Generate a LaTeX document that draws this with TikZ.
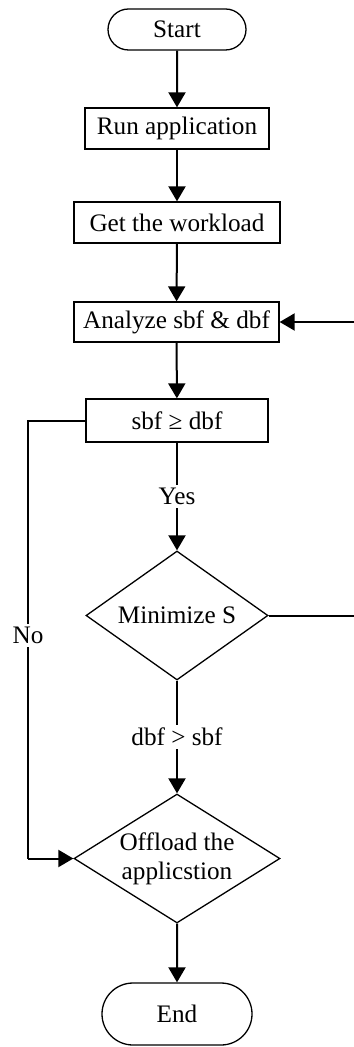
\documentclass[tikz,border=0pt]{standalone}
\usepackage{fontspec}
\setmainfont{Liberation Serif}
\usetikzlibrary{shapes.geometric,shapes.misc,arrows.meta}

\begin{document}
\begin{tikzpicture}[x=0.5pt, y=-0.5pt,
    every node/.style={font=\fontsize{12.6}{14.5}\selectfont},
    box/.style={draw, line width=0.65pt, inner sep=0pt, minimum height=20.5pt},
    term/.style={draw, line width=0.65pt, rounded rectangle, inner sep=0pt},
    decision/.style={draw, line width=0.65pt, diamond, aspect=1.6, inner sep=0pt,
      align=center, minimum width=#1, minimum height=64.5pt},
    flow/.style={line width=1pt, -{Triangle[width=8.5pt,length=7.5pt]}},
    lbl/.style={fill=white, inner sep=1.5pt}]
  \useasboundingbox (0,0) rectangle (353,1047);

  % main column
  \node[term, minimum width=69pt, minimum height=20.5pt] (start) at (177,29.5) {Start};
  \node[box, minimum width=92pt] (run) at (177,128.5) {Run application};
  \node[box, minimum width=103pt] (load) at (177,222.5) {Get the workload};
  \node[box, minimum width=102.5pt, minimum height=20pt] (analyze) at (176.5,322) {Analyze sbf \& dbf};
  \node[box, minimum width=91pt, minimum height=21.5pt] (check) at (177,420.5) {sbf ≥ dbf};
  \node[decision=91pt] (minimize) at (177,615.5) {Minimize S};
  \node[decision=103pt] (offload) at (177,858.5) {Offload the\\applicstion};
  \node[term, minimum width=75pt, minimum height=31pt] (end) at (177,1014) {End};

  \draw[flow] (start) -- (run);
  \draw[flow] (run) -- (load);
  \draw[flow] (load) -- (analyze);
  \draw[flow] (analyze) -- (check);
  \draw[flow] (check) -- node[lbl] (yes) {Yes} (minimize);
  \draw[flow] (minimize) -- node[lbl] (more) {dbf > sbf} (offload);
  \draw[flow] (offload) -- (end);

  % No branch on the left
  \coordinate (notop) at (28,420.5);
  \coordinate (nobot) at (28,858.5);
  \draw[line width=1pt] (check.west) -- (notop) -- node[lbl, pos=0.49] (no) {No} (nobot);
  \draw[flow] (nobot) -- (offload.west);

  % loop back to the analysis step
  \coordinate (back) at (362,615.5);
  \draw[flow] (minimize.east) -- (back) |- (analyze.east);
\end{tikzpicture}
\end{document}
